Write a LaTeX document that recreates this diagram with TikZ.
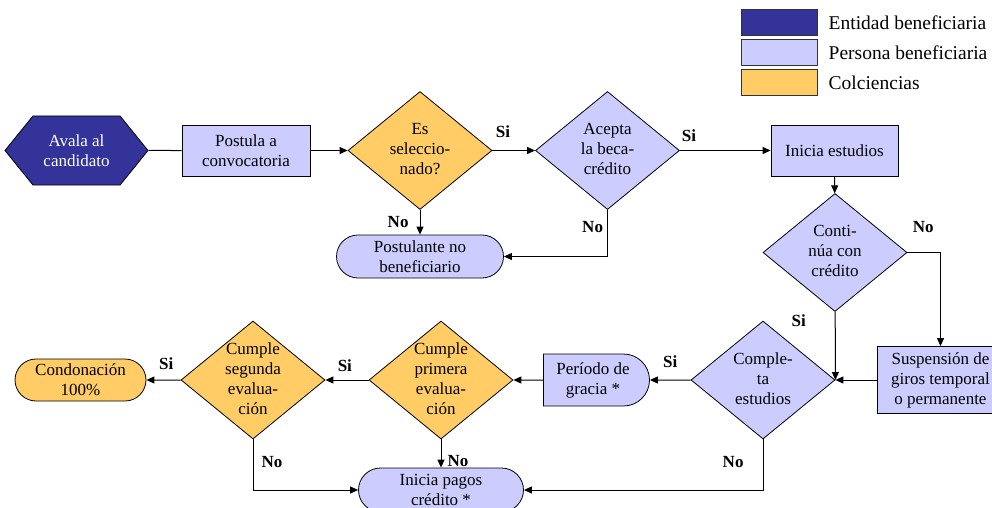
\documentclass[tikz,border=0pt]{standalone}
\usepackage{fontspec}
\setmainfont{Liberation Serif}
\usetikzlibrary{arrows.meta, positioning, shapes.geometric, shapes.misc, shapes.symbols}
\definecolor{entidadblue}{HTML}{333399}
\definecolor{personalilac}{HTML}{CCCCFF}
\definecolor{colcorange}{HTML}{FFCC66}
% text of a decision, kept from widening the diamond
\newcommand{\dtxt}[1]{\smash{\raisebox{\dimexpr-0.5\height+0.5\depth\relax}{\begin{tabular}[b]{@{}c@{}}#1\end{tabular}}}}

\begin{document}
\begin{tikzpicture}[
    x=1pt, y=-1pt,
    >={Triangle[length=8pt, width=7pt]},
    font=\fontsize{17}{20}\selectfont,
    base/.style={draw=black, line width=0.8pt, inner sep=2pt, align=center},
    procbox/.style={base, rectangle, fill=#1, minimum width=127, minimum height=51},
    decision/.style={base, diamond, fill=#1, inner sep=0pt, minimum width=144, minimum height=118},
    terminal/.style={base, rounded rectangle, fill=#1},
    delaybox/.style={base, rounded rectangle, rounded rectangle west arc=none, fill=#1},
    hexa/.style={base, signal, signal to=west and east, signal pointer angle=102, fill=#1, text=white, minimum width=143, minimum height=69},
    arrow/.style={->, line width=1pt},
    answer/.style={font=\fontsize{17}{20}\selectfont\bfseries, inner sep=2pt},
    keybox/.style={draw=black!80, line width=1pt, fill=#1, minimum width=76, minimum height=26},
    keytext/.style={font=\fontsize{19.5}{22}\selectfont, inner sep=2pt},
]
\useasboundingbox (0,0) rectangle (992,508);

% Legend
\node[keybox=entidadblue] (keyent) at (779.5,23) {};
\node[keybox=personalilac] (keyper) at (779.5,53) {};
\node[keybox=colcorange] (keycol) at (779.5,83) {};
\node[keytext, right=8.5pt of keyent] (keyenttxt) {Entidad beneficiaria};
\node[keytext, right=8.5pt of keyper] (keypertxt) {Persona beneficiaria};
\node[keytext, right=8.5pt of keycol] (keycoltxt) {Colciencias};

% Top row
\node[hexa=entidadblue] (avala) at (76.5,150.5) {Avala al\\candidato};
\node[procbox=personalilac, minimum width=128] (postula) at (246,150.5) {Postula a\\convocatoria};
\node[decision=colcorange] (selec) at (420,150.5) {\dtxt{Es\\seleccio-\\nado?}};
\node[decision=personalilac] (acepta) at (607.5,150.5) {\dtxt{Acepta\\la beca-\\crédito}};
\node[terminal=personalilac, minimum width=171, minimum height=43] (nobenef) at (420,256.5) {Postulante no\\beneficiario};
\node[procbox=personalilac] (inicia) at (834.5,150.5) {Inicia estudios};

% Right column
\node[decision=personalilac] (continua) at (835,252.5) {\dtxt{Conti-\\núa con\\crédito}};
\node[procbox=personalilac, minimum height=67] (suspension) at (940.5,380) {Suspensión de\\giros temporal\\o permanente};
\node[decision=personalilac] (completa) at (763,380) {\dtxt{Comple-\\ta\\estudios}};

% Bottom row
\node[delaybox=personalilac, minimum width=110, minimum height=52] (gracia) at (593,380) {Período de\\gracia *};
\node[decision=colcorange] (primera) at (441,380) {\dtxt{Cumple\\primera\\evalua-\\ción}};
\node[decision=colcorange] (segunda) at (253,380) {\dtxt{Cumple\\segunda\\evalua-\\ción}};
\node[terminal=colcorange, minimum width=135, minimum height=42] (condona) at (80.5,380) {Condonación\\100\%};
\node[terminal=personalilac, minimum width=169, minimum height=44] (pagos) at (441,490) {Inicia pagos\\crédito *};

% Connectors
\draw[line width=1pt] (avala) -- (postula);
\draw[arrow] (postula) -- (selec);
\draw[arrow] (selec) -- node[answer, pos=0.25, above=10pt] {Si} (acepta);
\draw[arrow] (acepta) -- node[answer, pos=0.1, above=6pt] {Si} (inicia);
\draw[arrow] (selec) -- node[answer, left=9pt] {No} (nobenef);
\draw[arrow] (acepta) |- node[answer, pos=0.18, left=2pt] {No} (nobenef);
\draw[arrow] (inicia) -- (continua);
\draw[arrow] (continua) -| node[answer, pos=0.24, above=17pt] {No} (suspension);
\draw[arrow] (continua) -- node[answer, pos=0.13, left=27pt] {Si} (completa.east);
\draw[arrow] (suspension) -- (completa);
\draw[arrow] (completa) -- node[answer, above=10pt] {Si} (gracia);
\draw[arrow] (gracia) -- (primera);
\draw[arrow] (primera) -- node[answer, pos=0.55, above=6pt] {Si} (segunda);
\draw[arrow] (segunda) -- node[answer, pos=0.42, above=8pt] {Si} (condona);
\draw[arrow] (primera) -- node[answer, pos=0.75, right=4pt] {No} (pagos);
\draw[arrow] (segunda) |- node[answer, pos=0.22, right=6pt] {No} (pagos);
\draw[arrow] (completa) |- node[answer, pos=0.22, left=17pt] {No} (pagos);

\end{tikzpicture}
\end{document}
